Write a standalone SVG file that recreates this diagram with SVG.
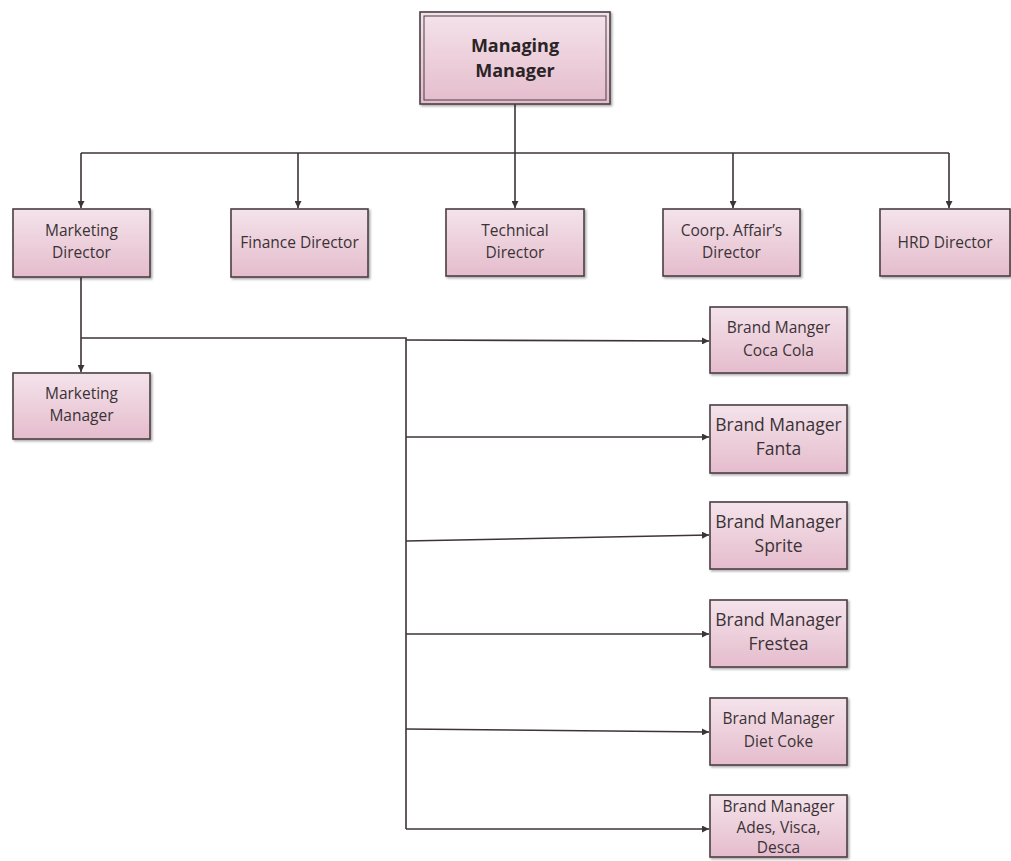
<svg xmlns="http://www.w3.org/2000/svg" width="1011" height="861" viewBox="0 0 1011 861">
<defs>
<linearGradient id="pink" x1="0" y1="0" x2="0" y2="1">
<stop offset="0" stop-color="#f4e3ea"/>
<stop offset="1" stop-color="#e5bccd"/>
</linearGradient>
<marker id="arr" viewBox="0 0 10 10" refX="10" refY="5" markerWidth="7" markerHeight="7" orient="auto" markerUnits="userSpaceOnUse">
<path d="M0,0 L10,5 L0,10 z" fill="#3d3338"/>
</marker>
<filter id="sh" x="-10%" y="-10%" width="130%" height="130%">
<feDropShadow dx="1.5" dy="1.5" stdDeviation="1" flood-color="#000" flood-opacity="0.35"/>
</filter>
</defs>
<style>
.box{fill:url(#pink);stroke:#4a3f45;stroke-width:1.6;filter:url(#sh)}
.t{font-family:"Open Sans","Liberation Sans",sans-serif;font-size:15.5px;fill:#3a3236;text-anchor:middle}
.tb{font-size:17.5px}
.tm{font-family:"Open Sans","Liberation Sans",sans-serif;font-size:18px;font-weight:bold;fill:#2a2427;text-anchor:middle}
.c{fill:none;stroke:#3d3338;stroke-width:1.6}
.ca{fill:none;stroke:#3d3338;stroke-width:1.6;marker-end:url(#arr)}
</style>
<rect width="1011" height="861" fill="#ffffff"/>
<g id="connectors">
<path class="c" d="M515,103 V153"/>
<path class="c" d="M81,153 H949"/>
<path class="ca" d="M81,153 V208"/>
<path class="ca" d="M298,153 V208"/>
<path class="ca" d="M515,153 V208"/>
<path class="ca" d="M733,153 V208"/>
<path class="ca" d="M949,153 V208"/>
<path class="ca" d="M81,277 V372"/>
<path class="c" d="M81,338 H406 V829"/>
<path class="ca" d="M406,340 L709,341"/>
<path class="ca" d="M406,437 L709,437"/>
<path class="ca" d="M406,541 L709,535"/>
<path class="ca" d="M406,634 L709,634"/>
<path class="ca" d="M406,729 L709,732"/>
<path class="ca" d="M406,829 L709,829"/>
</g>
<g id="managing-manager">
<rect class="box" x="420" y="12" width="190" height="92"/>
<rect x="424" y="16" width="182" height="84" fill="none" stroke="#4a3f45" stroke-width="1"/>
<text class="tm" x="515" y="52">Managing</text>
<text class="tm" x="515" y="77">Manager</text>
</g>
<g id="marketing-director">
<rect class="box" x="13" y="209" width="137" height="68"/>
<text class="t" x="81.5" y="236">Marketing</text>
<text class="t" x="81.5" y="258">Director</text>
</g>
<g id="finance-director">
<rect class="box" x="231" y="209" width="137" height="68"/>
<text class="t" x="299.5" y="248">Finance Director</text>
</g>
<g id="technical-director">
<rect class="box" x="446" y="209" width="138" height="67"/>
<text class="t" x="515" y="236">Technical</text>
<text class="t" x="515" y="258">Director</text>
</g>
<g id="coorp-director">
<rect class="box" x="663" y="209" width="137" height="67"/>
<text class="t" x="731.5" y="236">Coorp. Affair’s</text>
<text class="t" x="731.5" y="258">Director</text>
</g>
<g id="hrd-director">
<rect class="box" x="880" y="209" width="130" height="67"/>
<text class="t" x="945" y="248">HRD Director</text>
</g>
<g id="marketing-manager">
<rect class="box" x="13" y="373" width="137" height="66"/>
<text class="t" x="81.5" y="399">Marketing</text>
<text class="t" x="81.5" y="421">Manager</text>
</g>
<g id="bm-coca-cola">
<rect class="box" x="710" y="307" width="137" height="66"/>
<text class="t" x="778.5" y="333">Brand Manger</text>
<text class="t" x="778.5" y="356">Coca Cola</text>
</g>
<g id="bm-fanta">
<rect class="box" x="710" y="405" width="137" height="68"/>
<text class="t tb" x="778.5" y="431">Brand Manager</text>
<text class="t tb" x="778.5" y="455">Fanta</text>
</g>
<g id="bm-sprite">
<rect class="box" x="710" y="502" width="137" height="67"/>
<text class="t tb" x="778.5" y="528">Brand Manager</text>
<text class="t tb" x="778.5" y="552">Sprite</text>
</g>
<g id="bm-frestea">
<rect class="box" x="710" y="600" width="137" height="67"/>
<text class="t tb" x="778.5" y="626">Brand Manager</text>
<text class="t tb" x="778.5" y="650">Frestea</text>
</g>
<g id="bm-diet-coke">
<rect class="box" x="710" y="698" width="137" height="67"/>
<text class="t" x="778.5" y="724">Brand Manager</text>
<text class="t" x="778.5" y="747">Diet Coke</text>
</g>
<g id="bm-ades">
<rect class="box" x="710" y="795" width="137" height="62"/>
<text class="t" x="778.5" y="812">Brand Manager</text>
<text class="t" x="778.5" y="833">Ades, Visca,</text>
<text class="t" x="778.5" y="853">Desca</text>
</g>
</svg>
